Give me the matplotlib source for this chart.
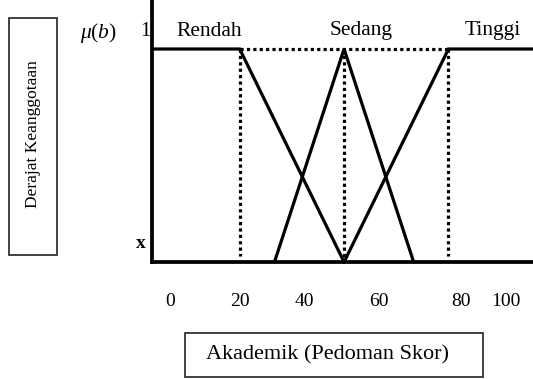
import matplotlib
matplotlib.use('Agg')
import matplotlib.pyplot as plt
from matplotlib.patches import Rectangle

plt.rcParams['font.family'] = ['Liberation Serif', 'DejaVu Serif']
plt.rcParams['mathtext.fontset'] = 'custom'
plt.rcParams['mathtext.rm'] = 'Liberation Serif'
plt.rcParams['mathtext.it'] = 'Liberation Serif:italic'

# membership functions (score, degree)
rendah_x = [-5, 20, 50]
rendah_y = [1, 1, 0]
sedang_x = [30, 50, 70]
sedang_y = [0, 1, 0]
tinggi_x = [50, 80, 105]
tinggi_y = [0, 1, 1]

categories = ['Rendah', 'Sedang', 'Tinggi']
tick_labels = ['0', '20', '40', '60', '80', '100']

W, H = 533, 379
fig = plt.figure(figsize=(W / 100, H / 100), dpi=100)


def fx(px):
    return px / W


def fy(py):
    return 1 - py / H


ax = fig.add_axes([fx(152), fy(262), fx(533) - fx(152), fy(0) - fy(262)])
ax.set_xlim(-5.2, 104.3)
ax.set_ylim(0, 1 + 49 / 213)

lw = 2.3
for xs, ys in [(rendah_x, rendah_y), (sedang_x, sedang_y), (tinggi_x, tinggi_y)]:
    ax.plot(xs, ys, color='black', lw=lw, solid_joinstyle='miter', clip_on=False)

dot = (0, (1, 1))
ax.plot([20, 80], [1, 1], color='black', lw=lw, linestyle=dot)
ax.plot([20, 20], [1, 0.03], color='black', lw=lw, linestyle=dot)
ax.plot([50, 50], [1, 0], color='black', lw=lw, linestyle=dot)
ax.plot([80, 80], [1, 0.03], color='black', lw=lw, linestyle=dot)

for s in ['top', 'right']:
    ax.spines[s].set_visible(False)
for s in ['left', 'bottom']:
    ax.spines[s].set_linewidth(lw + 0.4)
ax.set_yticks([])
ax.set_xticks([0, 20, 38.5, 60, 83.5, 96.5])
ax.set_xticklabels(tick_labels, fontsize=14)
ax.tick_params(axis='x', length=0, pad=22)

# category labels above the top line
for name, px in zip(categories, [209, 361, 493]):
    fig.text(fx(px), fy(31), name, fontsize=15.5, ha='center', va='center')

fig.text(fx(98), fy(33), r'$\mu(b)$', fontsize=15.5, ha='center', va='center')
fig.text(fx(145), fy(32), '1', fontsize=14.5, ha='center', va='center')
fig.text(fx(141), fy(243), 'x', fontsize=14, ha='center', va='center', fontweight='bold')

# boxed axis titles
fig.patches.append(Rectangle((fx(9), fy(255)), fx(57) - fx(9), fy(18) - fy(255),
                             transform=fig.transFigure, fill=False, ec='#333333', lw=1.3))
fig.text(fx(33), fy(134), 'Derajat Keanggotaan', fontsize=12.5, rotation=90,
         ha='center', va='center')

fig.patches.append(Rectangle((fx(185), fy(377)), fx(483) - fx(185), fy(333) - fy(377),
                             transform=fig.transFigure, fill=False, ec='#333333', lw=1.3))
fig.text(fx(328), fy(355), 'Akademik (Pedoman Skor)', fontsize=16, ha='center', va='center')

fig.savefig('out.png', dpi=100)
